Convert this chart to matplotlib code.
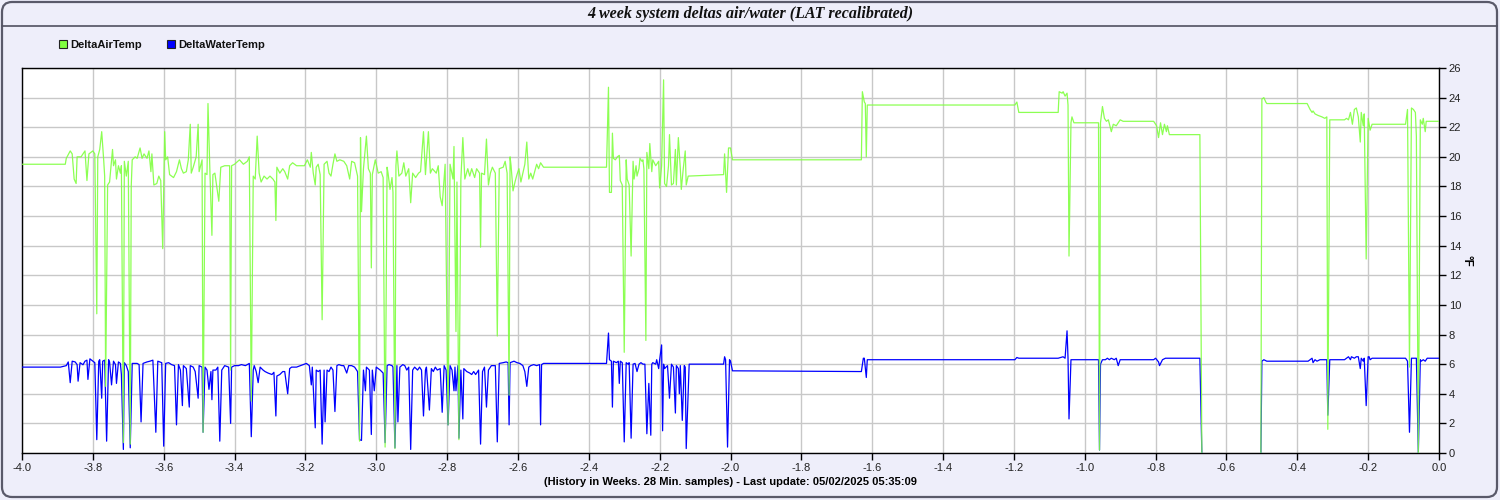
import numpy as np
import matplotlib.pyplot as plt
from matplotlib.patches import FancyBboxPatch

# samples are 28 minutes apart, sample 0 = 4 weeks before the last update
SAMPLE_MIN = 28
air_samples = [0, 44, 45, 49, 51, 53, 55, 56, 60, 62, 64, 66, 68, 72, 74, 76, 77, 79, 81, 83, 84, 85, 87, 89,
               92, 93, 95, 96, 98, 100, 101, 103, 104, 106, 108, 110, 111, 112, 115, 117, 120, 122, 124, 127,
               129, 131, 132, 134, 137, 139, 141, 143, 145, 146, 148, 150, 154, 157, 160, 162, 164, 167, 169,
               171, 172, 174, 177, 179, 180, 183, 184, 186, 188, 189, 191, 193, 194, 196, 200, 202, 206, 211,
               212, 213, 216, 221, 225, 229, 231, 233, 235, 237, 239, 241, 243, 246, 249, 252, 255, 257, 258,
               259, 262, 265, 267, 270, 272, 275, 279, 287, 290, 293, 294, 296, 298, 299, 301, 303, 305, 307,
               310, 312, 314, 316, 318, 320, 323, 327, 330, 333, 335, 338, 341, 343, 344, 345, 347, 350, 352,
               354, 355, 356, 359, 362, 365, 367, 369, 371, 372, 374, 376, 377, 379, 380, 381, 383, 386, 388,
               390, 393, 395, 397, 400, 403, 405, 408, 410, 413, 415, 417, 421, 423, 425, 427, 430, 433, 435,
               438, 439, 441, 442, 444, 446, 448, 450, 453, 455, 457, 460, 462, 465, 466, 467, 470, 472, 474,
               476, 478, 481, 483, 485, 489, 491, 493, 495, 496, 497, 499, 501, 503, 505, 507, 509, 511, 513,
               515, 517, 519, 521, 523, 525, 527, 530, 594, 596, 597, 599, 600, 601, 603, 605, 607, 608, 610,
               612, 614, 615, 617, 619, 621, 622, 624, 625, 627, 628, 630, 631, 632, 634, 635, 637, 638, 640,
               641, 644, 647, 648, 650, 652, 653, 655, 657, 658, 660, 662, 664, 665, 667, 669, 670, 672, 674,
               675, 677, 713, 714, 716, 718, 720, 722, 853, 854, 856, 857, 858, 859, 1009, 1011, 1013, 1053,
               1054, 1057, 1058, 1060, 1062, 1063, 1064, 1066, 1067, 1069, 1094, 1095, 1096, 1098, 1100, 1102,
               1104, 1107, 1109, 1112, 1116, 1119, 1150, 1153, 1155, 1157, 1159, 1161, 1163, 1164, 1166, 1197,
               1199, 1229, 1259, 1260, 1262, 1264, 1265, 1306, 1309, 1311, 1312, 1314, 1317, 1321, 1324, 1326,
               1327, 1329, 1344, 1346, 1348, 1350, 1352, 1354, 1356, 1358, 1360, 1361, 1363, 1364, 1366, 1368,
               1370, 1372, 1406, 1408, 1410, 1412, 1414, 1416, 1417, 1419, 1421, 1423, 1424, 1426, 1427, 1432,
               1440]
air_temp = [19.5, 19.5, 19.9, 20.4, 20.2, 18.5, 18.2, 20.0, 20.0, 20.2, 20.4, 18.4, 20.2, 20.4, 20.2, 9.4,
            20.0, 20.5, 21.7, 19.8, 18.7, 4.5, 18.1, 18.3, 20.5, 19.4, 19.8, 18.5, 19.4, 18.9, 19.4, 0.7, 19.7,
            18.7, 19.7, 0.6, 18.0, 19.8, 20.0, 19.9, 20.6, 19.9, 20.2, 19.9, 20.4, 19.0, 20.2, 18.1, 18.2, 18.7,
            18.4, 13.8, 21.7, 19.8, 20.0, 18.8, 18.6, 19.0, 19.8, 19.2, 18.9, 19.0, 19.8, 22.2, 18.9, 19.3, 20.0,
            22.2, 19.0, 19.8, 1.4, 18.9, 18.8, 23.6, 18.9, 14.7, 18.8, 18.9, 17.0, 19.3, 19.4, 19.4, 5.6, 19.4,
            19.5, 19.8, 19.5, 19.7, 20.0, 3.5, 18.7, 18.5, 21.4, 18.9, 18.3, 18.7, 18.5, 18.7, 18.5, 18.3, 15.7,
            19.3, 18.9, 19.2, 19.0, 18.5, 19.4, 19.6, 19.4, 19.4, 19.8, 19.3, 20.3, 18.9, 18.1, 19.3, 19.5, 18.8,
            9.0, 19.5, 19.7, 18.9, 18.7, 19.5, 20.2, 19.7, 19.8, 19.7, 19.4, 18.5, 19.7, 19.6, 18.7, 0.8, 21.3,
            16.3, 19.2, 21.4, 19.2, 18.9, 12.5, 18.8, 19.8, 18.9, 19.0, 18.6, 0.4, 19.3, 18.9, 17.8, 18.6, 17.6,
            0.3, 19.4, 20.4, 18.7, 18.9, 19.6, 18.7, 19.2, 16.9, 18.9, 18.6, 18.9, 19.0, 21.7, 18.8, 21.7, 18.9,
            19.2, 18.9, 19.4, 17.3, 16.7, 19.5, 1.9, 19.5, 18.5, 20.7, 8.2, 18.3, 0.9, 18.5, 21.3, 18.5, 19.2,
            18.7, 19.2, 18.6, 19.2, 18.9, 13.9, 18.9, 18.8, 21.2, 18.1, 18.9, 19.3, 18.9, 7.9, 19.2, 19.3, 19.7,
            18.9, 3.9, 20.0, 19.4, 17.7, 18.3, 18.8, 19.2, 18.3, 18.9, 19.5, 21.0, 18.5, 18.9, 18.5, 19.0, 19.5,
            19.2, 19.6, 19.3, 19.3, 24.7, 17.6, 17.6, 21.6, 19.9, 19.8, 20.0, 20.1, 18.4, 18.1, 6.8, 19.8, 18.5,
            18.1, 13.3, 19.7, 18.5, 19.4, 18.7, 19.2, 19.9, 19.7, 19.8, 19.2, 7.6, 20.3, 19.2, 20.9, 19.0, 19.8,
            19.4, 19.7, 17.9, 19.4, 25.2, 18.2, 18.0, 19.4, 21.5, 18.1, 18.2, 20.5, 18.1, 21.3, 19.2, 17.8, 19.2,
            20.4, 18.1, 18.7, 18.8, 20.2, 17.6, 20.6, 20.6, 19.8, 19.8, 24.4, 23.7, 23.6, 20.0, 23.5, 23.5, 23.7,
            23.0, 23.0, 24.4, 24.3, 24.4, 24.1, 24.3, 23.5, 13.3, 22.3, 22.7, 22.3, 22.3, 0.2, 22.3, 23.4, 22.6,
            22.4, 22.5, 21.7, 22.2, 22.1, 22.5, 22.4, 22.4, 22.1, 21.3, 22.3, 21.5, 22.2, 21.7, 22.1, 21.5, 21.5,
            0.0, np.nan, 0.0, 23.9, 24.0, 23.7, 23.6, 23.6, 23.2, 23.0, 23.1, 22.9, 22.8, 22.7, 22.6, 22.7, 1.6,
            22.5, 22.5, 22.6, 22.5, 23.0, 22.2, 23.2, 23.3, 22.7, 21.0, 23.0, 22.1, 22.9, 13.1, 22.6, 21.8, 22.2,
            22.2, 23.2, 5.8, 23.3, 23.2, 23.0, 21.4, 0.0, 22.5, 22.2, 22.6, 21.7, 22.4, 22.4, 22.4]

water_samples = [0, 39, 45, 47, 49, 51, 54, 56, 57, 59, 62, 64, 66, 67, 69, 72, 74, 76, 78, 79, 81, 82, 84, 86,
                 88, 89, 91, 93, 95, 96, 98, 100, 101, 103, 104, 106, 108, 110, 112, 117, 119, 121, 123, 127,
                 130, 133, 136, 138, 140, 142, 144, 146, 149, 152, 155, 157, 159, 161, 163, 164, 167, 170, 171,
                 174, 176, 179, 180, 183, 184, 186, 188, 190, 192, 193, 194, 197, 199, 201, 203, 206, 210, 212,
                 213, 216, 220, 223, 227, 229, 231, 233, 235, 236, 238, 240, 242, 245, 247, 250, 254, 256, 258,
                 259, 262, 265, 267, 270, 272, 274, 279, 286, 289, 292, 294, 295, 298, 299, 301, 303, 305, 307,
                 308, 310, 312, 314, 316, 318, 320, 322, 325, 327, 330, 332, 335, 338, 341, 343, 345, 347, 349,
                 350, 353, 355, 356, 358, 360, 362, 364, 367, 369, 371, 373, 376, 377, 379, 381, 382, 384, 387,
                 389, 391, 393, 395, 397, 399, 402, 404, 406, 408, 410, 411, 414, 416, 418, 420, 422, 425, 427,
                 429, 431, 433, 435, 437, 439, 440, 441, 443, 444, 446, 448, 449, 452, 455, 457, 459, 461, 464,
                 466, 468, 470, 472, 474, 477, 481, 483, 485, 489, 492, 494, 495, 496, 498, 500, 503, 506, 509,
                 511, 513, 515, 517, 520, 523, 526, 527, 528, 530, 594, 596, 597, 599, 600, 601, 604, 606, 607,
                 608, 610, 612, 614, 616, 617, 619, 621, 623, 625, 627, 629, 631, 633, 635, 637, 639, 640, 641,
                 644, 645, 647, 648, 650, 651, 652, 653, 656, 658, 660, 662, 664, 665, 667, 668, 669, 671, 673,
                 674, 675, 678, 713, 714, 715, 717, 719, 720, 722, 853, 855, 856, 858, 859, 1009, 1011, 1013,
                 1053, 1058, 1060, 1062, 1063, 1064, 1066, 1094, 1095, 1096, 1098, 1101, 1103, 1105, 1107, 1110,
                 1112, 1114, 1116, 1150, 1152, 1155, 1156, 1159, 1162, 1166, 1197, 1199, 1229, 1259, 1260, 1262,
                 1265, 1307, 1309, 1311, 1312, 1314, 1316, 1319, 1324, 1326, 1327, 1329, 1344, 1346, 1348, 1350,
                 1351, 1354, 1356, 1358, 1360, 1361, 1363, 1364, 1366, 1368, 1369, 1370, 1372, 1406, 1408, 1410,
                 1412, 1415, 1417, 1419, 1421, 1422, 1424, 1426, 1428, 1440]
water_temp = [5.8, 5.8, 5.9, 6.15, 4.75, 6.2, 6.15, 5.97, 4.85, 6.1, 5.96, 6.2, 6.27, 4.97, 6.36, 6.2, 6.1, 0.9,
              6.2, 6.3, 3.7, 6.2, 6.27, 0.8, 6.3, 6.15, 4.6, 6.2, 5.97, 4.7, 6.15, 6.05, 5.3, 0.24, 6.1, 5.9, 5.5,
              0.35, 6.05, 6.05, 5.97, 2.1, 6.05, 6.15, 6.2, 6.27, 1.4, 6.2, 6.15, 6.1, 0.46, 6.05, 6.1, 5.97, 5.9,
              1.9, 5.97, 5.6, 3.2, 5.9, 5.7, 3.1, 5.9, 5.8, 5.5, 3.7, 5.9, 5.8, 1.4, 5.8, 5.6, 4.3, 5.5, 3.6, 5.6,
              5.6, 5.8, 0.8, 5.6, 5.9, 5.8, 2.0, 5.8, 5.9, 5.9, 5.97, 5.9, 5.97, 6.05, 1.1, 5.6, 5.9, 5.5, 4.75,
              5.8, 5.6, 5.5, 5.4, 5.3, 5.45, 2.5, 5.2, 5.3, 5.5, 5.5, 4.0, 5.7, 5.8, 5.8, 5.97, 6.05, 5.9, 4.6,
              5.8, 1.7, 5.6, 5.5, 5.6, 0.6, 5.6, 2.1, 5.6, 5.5, 5.8, 5.6, 2.8, 5.9, 5.97, 5.9, 5.9, 5.4, 5.9, 5.9,
              5.8, 5.5, 0.9, 0.85, 5.6, 4.2, 5.8, 5.6, 1.25, 5.6, 4.2, 5.8, 5.7, 5.6, 5.4, 0.7, 5.9, 5.97, 5.9,
              5.8, 0.35, 5.9, 2.1, 5.8, 5.97, 5.9, 5.6, 5.8, 0.24, 5.6, 5.8, 5.6, 5.8, 5.6, 2.5, 5.6, 5.8, 2.9,
              5.7, 5.5, 5.8, 5.6, 5.7, 2.75, 5.9, 5.6, 1.9, 5.9, 5.6, 4.2, 5.8, 4.2, 5.9, 1.0, 5.6, 2.3, 5.7, 5.5,
              5.4, 5.3, 5.5, 5.3, 5.6, 0.6, 5.5, 5.8, 3.1, 5.6, 5.9, 5.9, 0.75, 6.05, 6.1, 6.15, 6.1, 1.9, 6.1,
              6.15, 6.2, 6.1, 6.05, 5.9, 5.5, 4.5, 5.8, 5.9, 5.97, 5.9, 5.97, 1.9, 5.97, 6.05, 6.05, 8.1, 6.3,
              6.2, 3.1, 6.2, 6.1, 6.2, 4.7, 6.2, 6.1, 0.75, 6.1, 6.0, 6.1, 1.0, 6.0, 6.05, 5.5, 6.0, 6.1, 6.0,
              6.0, 1.3, 4.7, 1.2, 6.0, 6.1, 6.0, 6.3, 5.7, 6.3, 7.3, 1.5, 6.0, 5.7, 5.9, 3.7, 6.0, 5.8, 2.7, 5.9,
              5.7, 4.0, 5.9, 2.2, 5.9, 5.8, 0.3, 6.0, 6.0, 6.5, 6.3, 0.4, 6.3, 6.2, 5.55, 5.5, 6.4, 6.4, 5.1, 6.3,
              6.3, 6.45, 6.4, 6.4, 6.5, 6.4, 8.25, 6.4, 2.3, 6.3, 6.3, 0.2, 6.0, 6.3, 6.3, 6.4, 6.3, 6.4, 6.3,
              6.4, 5.9, 6.3, 6.3, 6.4, 6.15, 5.9, 6.3, 6.4, 6.4, 6.4, 0.0, np.nan, 0.0, 6.2, 6.3, 6.2, 6.2, 6.3,
              6.4, 6.1, 6.3, 6.2, 6.3, 6.3, 6.3, 2.55, 6.3, 6.3, 6.4, 6.5, 6.3, 6.5, 6.4, 6.5, 6.5, 5.7, 6.4,
              6.2, 6.4, 3.2, 6.5, 6.5, 6.3, 6.4, 6.4, 6.2, 1.4, 6.4, 6.4, 6.4, 0.0, 6.3, 6.2, 6.3, 6.2, 6.4, 6.4]

x_ticks = np.round(np.arange(-4.0, 0.01, 0.2), 1)
y_ticks = np.arange(0, 27, 2)

air_x = -4 + np.array(air_samples) * SAMPLE_MIN / (7 * 24 * 60)
water_x = -4 + np.array(water_samples) * SAMPLE_MIN / (7 * 24 * 60)

bg_col = '#EEEEFA'
fig = plt.figure(figsize=(15, 5), dpi=100)
fig.patch.set_facecolor(bg_col)

# frame / title bar, drawn in pixel space
bg = fig.add_axes([0, 0, 1, 1])
bg.set_xlim(0, 1500)
bg.set_ylim(500, 0)
bg.axis('off')
frame = FancyBboxPatch((2, 2), 1495, 495, boxstyle='round,pad=0,rounding_size=10',
                       fc=bg_col, ec='#5a5a6a', lw=1.6)
bg.add_patch(frame)
grad = np.linspace(0, 1, 50).reshape(-1, 1)
grad_img = bg.imshow(grad, cmap=plt.matplotlib.colors.LinearSegmentedColormap.from_list(
    'tb', ['#F6F6FD', '#DCDCF5', '#C9C9EE']), extent=(2, 1497, 25, 2), aspect='auto')
grad_img.set_clip_path(frame)
bg.plot([2, 1497], [25.5, 25.5], color='#505060', lw=1.2)
bg.text(750, 14, '4 week system deltas air/water (LAT recalibrated)', ha='center', va='center',
        family='Liberation Serif', style='italic', weight='bold', fontsize=11.5, color='#111111')

# legend
for lx, col, name in [(59, '#80FF40', 'DeltaAirTemp'), (167, '#0000FF', 'DeltaWaterTemp')]:
    bg.add_patch(plt.Rectangle((lx, 40), 8, 8, fc=col, ec='#222222', lw=0.8))
    bg.text(lx + 11, 44.5, name, ha='left', va='center', family='Liberation Sans',
            weight='bold', fontsize=8, color='#111111')

ax = fig.add_axes([22 / 1500, 1 - 453 / 500, (1439 - 22) / 1500, (453 - 68) / 500])
ax.set_facecolor('white')
ax.plot(water_x, water_temp, color='#0000FF', lw=0.9, zorder=3)
ax.plot(air_x, air_temp, color='#80FF40', lw=0.9, alpha=0.9, zorder=4)

ax.set_xlim(-4.0, 0.0)
ax.set_ylim(0, 26)
ax.set_xticks(x_ticks)
ax.set_xticklabels(['%.1f' % v for v in x_ticks])
ax.set_yticks(y_ticks)
ax.yaxis.tick_right()
ax.yaxis.set_label_position('right')
ax.grid(True, color='#C8C8C8', lw=1)
ax.set_axisbelow(True)
ax.tick_params(axis='both', direction='out', length=5, width=1, colors='black',
               labelsize=8, labelcolor='#222222', pad=2)
for lab in ax.get_xticklabels() + ax.get_yticklabels():
    lab.set_family('Liberation Sans')
for sp in ax.spines.values():
    sp.set_color('black')
    sp.set_linewidth(1)

ax.set_xlabel('(History in Weeks. 28 Min. samples) - Last update: 05/02/2025 05:35:09',
              family='Liberation Sans', weight='bold', fontsize=8, labelpad=3)
ax.set_ylabel('°F', family='Liberation Sans', weight='bold', fontsize=8.5, rotation=270, labelpad=8)

fig.savefig('out.png', dpi=100, facecolor=bg_col)
